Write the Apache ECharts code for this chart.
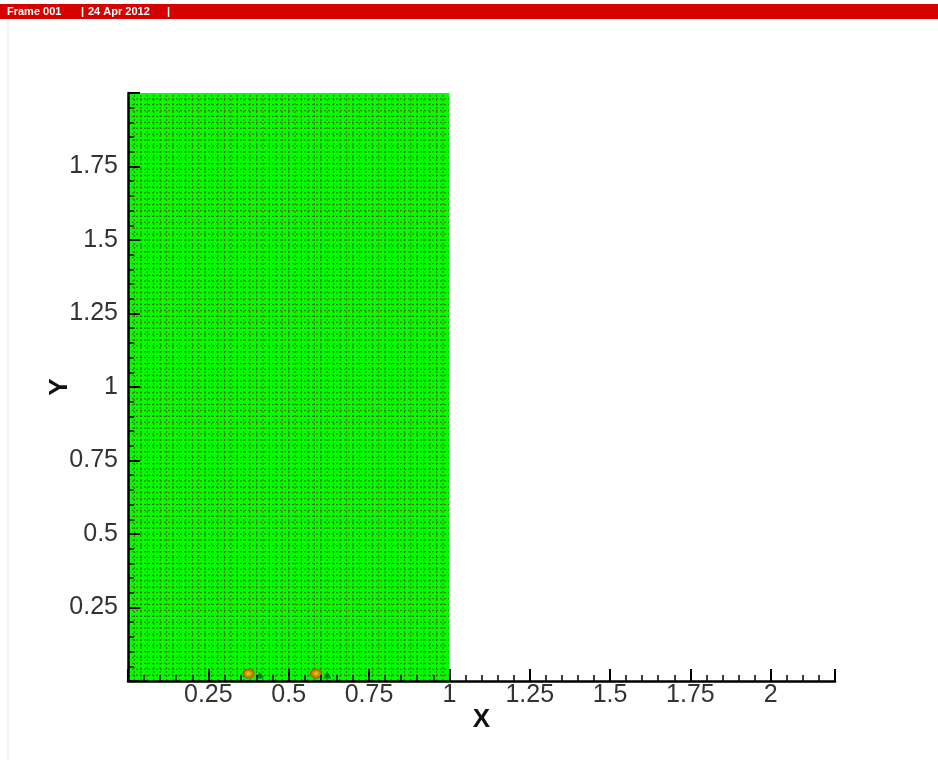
<!DOCTYPE html>
<html>
<head>
<meta charset="utf-8">
<script src="https://cdn.jsdelivr.net/npm/echarts@6/dist/echarts.min.js"></script>
<style>
html,body{margin:0;padding:0;background:#fff;}
#chart{width:938px;height:760px;}
</style>
</head>
<body>
<div id="chart"></div>
<script>
// Mesh domain (x from 0 to 1, y from 0 to 2) and number of cells
const meshX = [0, 1];
const meshY = [0, 2];
const meshCellsX = 50;
const meshCellsY = 100;
// Small hot spots near the bottom boundary
const hotX = [0.375, 0.585];
const hotY = [0.025, 0.025];
// Dark marks just right of the hot spots
const markX = [0.41, 0.62];
const markY = [0.02, 0.02];
// Axis ranges and tick step
const xRange = [0, 2.2];
const yRange = [0, 2];
const tickStep = 0.25;
const headerParts = ['Frame 001', '|', '24 Apr 2012', '|'];

const chart = echarts.init(document.getElementById('chart'));

function renderMesh(params, api) {
  const x0 = api.value(0), x1 = api.value(1), y0 = api.value(2), y1 = api.value(3);
  const nx = api.value(4), ny = api.value(5);
  const p0 = api.coord([x0, y0]);
  const p1 = api.coord([x1, y1]);
  const children = [{
    type: 'rect',
    shape: {x: p0[0], y: p1[1], width: p1[0] - p0[0], height: p0[1] - p1[1]},
    style: {fill: '#00ff00'}
  }];
  const lineStyle = {stroke: 'rgba(100,65,0,0.75)', lineWidth: 1.2, lineDash: [2, 2]};
  for (let i = 1; i < nx; i++) {
    const xv = x0 + (x1 - x0) * i / nx;
    const a = api.coord([xv, y0]), b = api.coord([xv, y1]);
    children.push({type: 'line', shape: {x1: a[0], y1: a[1], x2: b[0], y2: b[1]}, style: lineStyle});
  }
  for (let j = 1; j < ny; j++) {
    const yv = y0 + (y1 - y0) * j / ny;
    const a = api.coord([x0, yv]), b = api.coord([x1, yv]);
    children.push({type: 'line', shape: {x1: a[0], y1: a[1], x2: b[0], y2: b[1]}, style: lineStyle});
  }
  return {type: 'group', children: children};
}

const axisCommon = {
  type: 'value',
  interval: tickStep,
  z: 5,
  axisLine: {show: true, lineStyle: {color: '#000', width: 2.5}},
  axisTick: {show: true, inside: true, length: 12, lineStyle: {color: '#000', width: 2}},
  minorTick: {show: true, splitNumber: 5, length: 6, lineStyle: {color: '#000', width: 1.5}},
  splitLine: {show: false},
  minorSplitLine: {show: false},
  axisLabel: {
    color: '#333', fontSize: 25, fontFamily: 'Liberation Sans, Arial, sans-serif',
    showMinLabel: false, showMaxLabel: false
  },
  nameLocation: 'middle',
  nameMoveOverlap: false,
  nameTextStyle: {color: '#111', fontSize: 26, fontWeight: 'bold', fontFamily: 'Liberation Sans, Arial, sans-serif'}
};

const headerX = [7, 81, 88, 167];
chart.setOption({
  backgroundColor: '#fff',
  animation: false,
  grid: {left: 128, top: 93, width: 707, height: 588, containLabel: false},
  xAxis: Object.assign({}, axisCommon, {
    min: xRange[0], max: xRange[1], name: 'X', nameGap: 26,
    axisLabel: Object.assign({}, axisCommon.axisLabel, {margin: 2})
  }),
  yAxis: Object.assign({}, axisCommon, {
    min: yRange[0], max: yRange[1], name: 'Y', nameGap: 55,
    axisLabel: Object.assign({}, axisCommon.axisLabel, {margin: 10})
  }),
  graphic: [
    {type: 'rect', left: 0, top: 4, shape: {width: 938, height: 15}, style: {fill: '#d60000'}, z: 10}
  ].concat(headerParts.map((t, i) => ({
    type: 'text', left: headerX[i], top: 6,
    style: {text: t, fill: '#fff', font: 'bold 11px Liberation Sans, Arial, sans-serif'}, z: 11
  }))).concat([
    {type: 'line', shape: {x1: 8, y1: 20, x2: 8, y2: 760}, style: {stroke: '#e6e6e6', lineWidth: 1}, z: 1}
  ]),
  series: [
    {
      type: 'custom',
      renderItem: renderMesh,
      data: [[meshX[0], meshX[1], meshY[0], meshY[1], meshCellsX, meshCellsY]],
      encode: {x: [0, 1], y: [2, 3]},
      clip: true,
      z: 1,
      silent: true
    },
    {
      type: 'scatter',
      data: hotX.map((x, i) => [x, hotY[i]]),
      symbolSize: [12, 10],
      itemStyle: {
        color: {type: 'radial', x: 0.5, y: 0.5, r: 0.5,
          colorStops: [{offset: 0, color: '#ffdd22'}, {offset: 0.55, color: '#ff7700'}, {offset: 1, color: '#dd2200'}]}
      },
      z: 3,
      silent: true
    },
    {
      type: 'scatter',
      data: markX.map((x, i) => [x, markY[i]]),
      symbol: 'triangle',
      symbolSize: [8, 7],
      itemStyle: {color: 'rgba(20,40,60,0.7)'},
      z: 3,
      silent: true
    }
  ]
});
</script>
</body>
</html>
